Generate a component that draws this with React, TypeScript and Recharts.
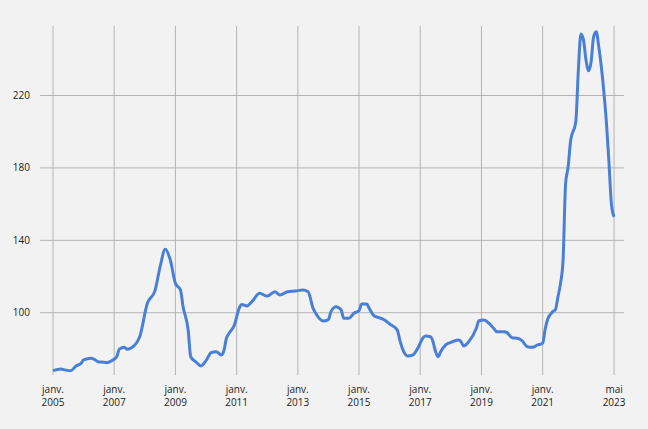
import { CartesianGrid, Line, LineChart, XAxis, YAxis } from "recharts"

const months = [
  "2005-01", "2005-04", "2005-06", "2005-08", "2005-10", "2005-12",
  "2006-01", "2006-04", "2006-05", "2006-07", "2006-08", "2006-10", "2006-12",
  "2007-02", "2007-03", "2007-05", "2007-06", "2007-09", "2007-11",
  "2008-02", "2008-05", "2008-07", "2008-09", "2008-11",
  "2009-01", "2009-03", "2009-04", "2009-06", "2009-07", "2009-09", "2009-11",
  "2010-01", "2010-03", "2010-05", "2010-07", "2010-08", "2010-09", "2010-10", "2010-12",
  "2011-02", "2011-03", "2011-05", "2011-07", "2011-10",
  "2012-01", "2012-04", "2012-06", "2012-09", "2012-12",
  "2013-03", "2013-05", "2013-07", "2013-08", "2013-11",
  "2014-01", "2014-02", "2014-04", "2014-06", "2014-07", "2014-09", "2014-11",
  "2015-01", "2015-02", "2015-04", "2015-05", "2015-07", "2015-09", "2015-11",
  "2016-01", "2016-04", "2016-05", "2016-06", "2016-08", "2016-10", "2016-12",
  "2017-02", "2017-03", "2017-05", "2017-06", "2017-07", "2017-08", "2017-09", "2017-11",
  "2018-01", "2018-04", "2018-05", "2018-06", "2018-08", "2018-11", "2018-12",
  "2019-02", "2019-04", "2019-06", "2019-07", "2019-10", "2019-11",
  "2020-01", "2020-03", "2020-05", "2020-07", "2020-09", "2020-11",
  "2021-01", "2021-02", "2021-03", "2021-05", "2021-06", "2021-07", "2021-08",
  "2021-09", "2021-10", "2021-11", "2021-12",
  "2022-02", "2022-03", "2022-04", "2022-05", "2022-06", "2022-07", "2022-08",
  "2022-09", "2022-10", "2022-11", "2022-12",
  "2023-01", "2023-02", "2023-03", "2023-04", "2023-05",
]

const index = [
  68.0, 68.9, 68.3, 68.0, 70.6, 72.0,
  73.9, 74.8, 74.4, 72.8, 72.8, 72.4, 73.5,
  75.7, 79.9, 80.9, 79.8, 82.0, 86.7,
  105.2, 112.2, 125.4, 135.0, 129.1,
  116.2, 112.5, 103.3, 90.4, 75.7, 72.9, 70.6,
  73.5, 77.9, 78.5, 76.6, 79.0, 85.9, 88.6, 92.8,
  102.4, 104.6, 103.7, 106.1, 110.7,
  109.2, 111.6, 109.8, 111.6, 112.0,
  112.5, 111.6, 102.4, 99.7, 95.4,
  96.3, 100.6, 103.3, 101.5, 96.9, 96.9, 99.7,
  101.1, 104.8, 104.8, 102.4, 98.2, 97.2, 96.0,
  93.8, 90.4, 84.9, 80.3, 76.1, 76.6, 80.3,
  85.9, 87.1, 86.7, 84.0, 78.5, 75.7, 78.5, 82.2,
  83.6, 84.9, 84.0, 81.6, 84.0, 91.4, 95.6,
  96.0, 94.1, 91.0, 89.5, 89.5, 89.0,
  86.2, 85.9, 84.5, 81.2, 80.9, 82.2,
  83.1, 91.0, 96.5, 100.6, 101.7, 108.8, 116.2,
  129.1, 171.5, 180.7, 195.4,
  205.5, 234.1, 254.0, 250.7, 239.6, 233.7, 238.7,
  252.5, 255.2, 247.0, 236.0,
  222.0, 205.0, 183.0, 159.5, 153.0,
]

const xTicks = ["2005-01", "2007-01", "2009-01", "2011-01", "2013-01", "2015-01", "2017-01", "2019-01", "2021-01", "2023-05"]
const yTicks = [100, 140, 180, 220]
const monthNames = ["janv.", "févr.", "mars", "avr.", "mai", "juin", "juil.", "août", "sept.", "oct.", "nov.", "déc."]

const toYear = (m: string) => {
  const [y, mo] = m.split("-").map(Number)
  return y + (mo - 1) / 12
}

const data = months.map((m, i) => ({ t: toYear(m), v: index[i] }))
const tickValues = xTicks.map(toYear)

function DateTick(props: any) {
  const { x, y, payload } = props
  const i = tickValues.findIndex((t) => Math.abs(t - payload.value) < 0.01)
  const label = i >= 0 ? xTicks[i] : ""
  const [yr, mo] = label.split("-")
  return (
    <g transform={`translate(${x},${y})`}>
      <text textAnchor="middle" fontSize={10} fill="#222" x={0} y={9.5}>
        {monthNames[Number(mo) - 1]}
      </text>
      <text textAnchor="middle" fontSize={10} fill="#222" x={0} y={22.5}>
        {yr}
      </text>
    </g>
  )
}

export default function App() {
  return (
    <div style={{ width: 648, height: 429, background: "#f2f2f2", fontFamily: "'Open Sans', sans-serif" }}>
      <style>{`body{margin:0;background:#f2f2f2}`}</style>
      <LineChart width={648} height={429} data={data} margin={{ top: 26, right: 24, bottom: 0, left: 0 }}>
        <CartesianGrid stroke="#b4b4b4" strokeWidth={1} horizontalValues={yTicks} verticalValues={tickValues} />
        <XAxis
          dataKey="t"
          type="number"
          domain={[2004.575, 2023.658]}
          ticks={tickValues}
          tick={<DateTick />}
          tickLine={false}
          axisLine={false}
          height={54}
          interval={0}
          allowDataOverflow
        />
        <YAxis
          type="number"
          domain={[65.6, 258.4]}
          ticks={yTicks}
          width={40}
          tickLine={false}
          axisLine={false}
          tick={{ fontSize: 10, fill: "#222" }}
          tickMargin={4}
          allowDataOverflow
        />
        <Line
          type="monotone"
          dataKey="v"
          stroke="#4a7fd6"
          strokeWidth={3}
          dot={false}
          isAnimationActive={false}
        />
      </LineChart>
    </div>
  )
}
